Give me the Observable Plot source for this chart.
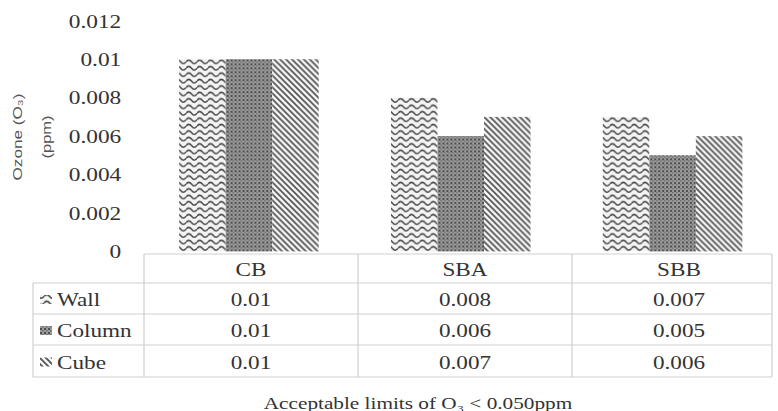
<!DOCTYPE html>
<html><head><meta charset="utf-8">
<script src="https://cdn.jsdelivr.net/npm/d3@7"></script>
<script src="https://cdn.jsdelivr.net/npm/@observablehq/plot@0.6"></script>
<style>
html,body{margin:0;padding:0;background:#fff;}
#wrap{position:relative;width:778px;height:411px;overflow:hidden;font-family:"Liberation Serif",serif;color:#3a3a3a;}
#wrap svg{position:absolute;left:0;top:0;}
#wrap text{font-family:"Liberation Serif","Times New Roman",serif;}
#wrap text.sans{font-family:"Liberation Sans",Arial,sans-serif;}
</style></head><body><div id="wrap"></div>
<script>
// ---- data ----
const categories = ["CB", "SBA", "SBB"];
const seriesNames = ["Wall", "Column", "Cube"];
const wallValues = [0.01, 0.008, 0.007];
const columnValues = [0.01, 0.006, 0.005];
const cubeValues = [0.01, 0.007, 0.006];
const yTicks = [0, 0.002, 0.004, 0.006, 0.008, 0.01, 0.012];
const yTickLabels = ["0", "0.002", "0.004", "0.006", "0.008", "0.01", "0.012"];
const yTitleLines = ["Ozone (O\u2083)", "(ppm)"];
const captionText = "Acceptable limits of O\u2083 < 0.050ppm";

const valuesBySeries = {Wall: wallValues, Column: columnValues, Cube: cubeValues};
const rows = categories.flatMap((c, i) => seriesNames.map(s => ({cat: c, series: s, value: valuesBySeries[s][i]})));

const patId = s => "pat-" + s;
const TEXT = "#333";
const SERIF = '"Liberation Serif", "Times New Roman", serif';

const W = 786;
const plot = Plot.plot({
  width: W, height: 256,
  marginLeft: 143, marginRight: 0, marginTop: 21, marginBottom: 2,
  style: {fontFamily: SERIF, fontSize: "20px", color: TEXT, background: "transparent", overflow: "visible"},
  fx: {domain: categories, padding: 0, axis: null, label: null},
  x: {domain: seriesNames, paddingInner: 0, paddingOuter: 0.76, axis: null},
  y: {domain: [0, 0.012], axis: null},
  marks: [
    ...seriesNames.map(s => Plot.barY(rows.filter(d => d.series === s), {fx: "cat", x: "series", y: "value", fill: `url(#${patId(s)})`, inset: 0})),
    Plot.axisY({ticks: yTicks, tickFormat: d => yTickLabels[yTicks.indexOf(d)], tickSize: 0, tickPadding: 22, label: null, fontSize: 20, fontFamily: SERIF, fill: TEXT})
  ]
});

// horizontal stretch helper for text (the reference text is drawn wide)
function stretch(el, s) {
  const t = el.getAttribute("transform");
  if (t) { el.setAttribute("transform", t + ` scale(${s},1)`); return; }
  const x = +el.getAttribute("x") || 0, y = +el.getAttribute("y") || 0;
  el.removeAttribute("x"); el.removeAttribute("y");
  el.setAttribute("transform", `translate(${x},${y}) scale(${s},1)`);
}
d3.select(plot).selectAll("text").each(function () { stretch(this, 1.18); this.setAttribute("font-family", SERIF); });

// patterns
const defs = d3.select(plot).insert("defs", ":first-child");
const pw = defs.append("pattern").attr("id", patId("Wall")).attr("patternUnits", "userSpaceOnUse").attr("width", 11).attr("height", 6.5);
pw.append("rect").attr("width", 11).attr("height", 6.5).attr("fill", "#f4f4f4");
pw.append("path").attr("d", "M0,4 Q2.75,0.5 5.5,4 T11,4").attr("fill", "none").attr("stroke", "#474747").attr("stroke-width", 1.5);
const pc = defs.append("pattern").attr("id", patId("Column")).attr("patternUnits", "userSpaceOnUse").attr("width", 4).attr("height", 4);
pc.append("rect").attr("width", 4).attr("height", 4).attr("fill", "#9c9c9c");
pc.append("rect").attr("width", 2).attr("height", 2).attr("fill", "#4e4e4e");
pc.append("rect").attr("x", 2).attr("y", 2).attr("width", 1.5).attr("height", 1.5).attr("fill", "#6c6c6c");
const pk = defs.append("pattern").attr("id", patId("Cube")).attr("patternUnits", "userSpaceOnUse").attr("width", 6).attr("height", 6);
pk.append("rect").attr("width", 6).attr("height", 6).attr("fill", "#f6f6f6");
pk.append("path").attr("d", "M-1,-1 L7,7 M-1,5 L1,7 M5,-1 L7,1").attr("stroke", "#555").attr("stroke-width", 1.8);

const wrap = document.getElementById("wrap");
wrap.appendChild(plot);

// ---- data table + titles (positioned with the plot's fx scale) ----
const fx = plot.scale("fx");
const bw = fx.bandwidth;
const tableLeft = 33, tableRight = 772;
const rowEdges = [254, 283, 314, 345, 377];

const svg = d3.select(wrap).append("svg").attr("width", 778).attr("height", 411);
const line = (x1, y1, x2, y2) => svg.append("line").attr("x1", x1).attr("y1", y1).attr("x2", x2).attr("y2", y2).attr("stroke", "#cfcfcf").attr("stroke-width", 1.2);

line(fx.apply(categories[0]), rowEdges[0], tableRight, rowEdges[0]);
for (let i = 1; i < rowEdges.length; i++) line(tableLeft, rowEdges[i], tableRight, rowEdges[i]);
line(tableLeft, rowEdges[1], tableLeft, rowEdges[4]);
categories.forEach(c => line(fx.apply(c), rowEdges[0], fx.apply(c), rowEdges[4]));
line(tableRight, rowEdges[0], tableRight, rowEdges[4]);

const txt = (x, y, s, anchor, size, k) => svg.append("text").attr("transform", `translate(${x},${y}) scale(${k},1)`)
  .attr("text-anchor", anchor).attr("dominant-baseline", "central").attr("font-size", size)
  .attr("font-family", SERIF).attr("fill", TEXT).text(s);

categories.forEach(c => txt(fx.apply(c) + bw / 2, (rowEdges[0] + rowEdges[1]) / 2 + 1.5, c, "middle", 19, 1.22));
seriesNames.forEach((s, r) => {
  const yc = (rowEdges[r + 1] + rowEdges[r + 2]) / 2 + 1.5;
  svg.append("rect").attr("x", 40).attr("y", yc - 5).attr("width", 12).attr("height", 9).attr("fill", `url(#${patId(s)})`);
  txt(57, yc, s, "start", 19, 1.22);
  categories.forEach((c, i) => txt(fx.apply(c) + bw / 2, yc, String(valuesBySeries[s][i]), "middle", 19, 1.22));
});

// y title
[[17, 87], [46, 43]].forEach(([x, len], i) => {
  svg.append("text").attr("class", "sans").attr("transform", `translate(${x},137) rotate(-90)`).attr("text-anchor", "middle")
    .attr("dominant-baseline", "central").attr("font-size", 13)
    .attr("textLength", len).attr("lengthAdjust", "spacingAndGlyphs").attr("fill", "#555").text(yTitleLines[i]);
});
// caption
txt(418, 403, captionText, "middle", 17, 1.25);
</script>
</body></html>
